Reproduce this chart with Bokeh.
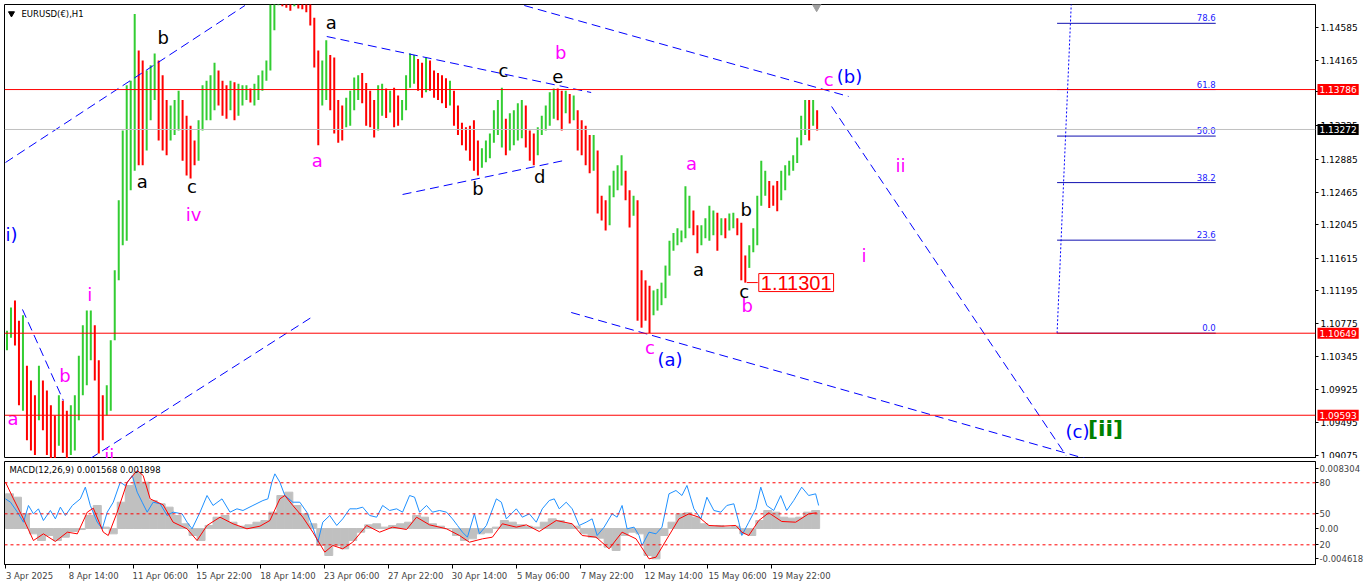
from bokeh.plotting import figure
from bokeh.models import (Range1d, FixedTicker, Label, Span, ColumnDataSource,
                          NumeralTickFormatter)
from bokeh.layouts import column
from bokeh.embed import file_html
from bokeh.resources import INLINE
from bokeh.core.properties import value

FONT = "DejaVu Sans"
SMALL = "8.5px"
SMALL_PX = 8.5

# ---------------- price data: H1 series grouped in 4-bar chunks ----------------
CHUNK = 4
highs = [
    1.1068, 1.1098, 1.1107, 1.1081, 1.1088, 1.1023, 1.1004, 1.0985, 1.1023, 1.1004,
    1.0991, 1.0972, 1.0959, 1.0985, 1.0978, 1.0965, 1.0972, 1.0985, 1.1036, 1.1075,
    1.1094, 1.1094, 1.1075, 1.1030, 1.0985, 1.0998, 1.1056, 1.1146, 1.1236, 1.1326,
    1.1384, 1.1390, 1.1476, 1.1429, 1.1416, 1.1403, 1.1410, 1.1425, 1.1416, 1.1397,
    1.1365, 1.1358, 1.1365, 1.1377, 1.1365, 1.1345, 1.1332, 1.1313, 1.1339, 1.1384,
    1.1390, 1.1397, 1.1413, 1.1403, 1.1390, 1.1384, 1.1390, 1.1388, 1.1386, 1.1384,
    1.1384, 1.1380, 1.1386, 1.1397, 1.1403, 1.1416, 1.1488, 1.1533, 1.1572, 1.1560,
    1.1545, 1.1530, 1.1540, 1.1535, 1.1530, 1.1520, 1.1500, 1.1471, 1.1429, 1.1416,
    1.1442, 1.1423, 1.1420, 1.1365, 1.1358, 1.1368, 1.1377, 1.1394, 1.1397, 1.1400,
    1.1387, 1.1377, 1.1365, 1.1384, 1.1386, 1.1380, 1.1377, 1.1381, 1.1371, 1.1365,
    1.1397, 1.1425, 1.1423, 1.1418, 1.1413, 1.1420, 1.1416, 1.1403, 1.1400, 1.1397,
    1.1393, 1.1390, 1.1377, 1.1358, 1.1336, 1.1330, 1.1332, 1.1339, 1.1313, 1.1303,
    1.1313, 1.1322, 1.1352, 1.1365, 1.1381, 1.1341, 1.1348, 1.1352, 1.1361, 1.1365,
    1.1358, 1.1326, 1.1322, 1.1330, 1.1345, 1.1358, 1.1375, 1.1380, 1.1380, 1.1377,
    1.1377, 1.1373, 1.1371, 1.1352, 1.1339, 1.1332, 1.1320, 1.1320, 1.1300, 1.1242,
    1.1236, 1.1255, 1.1274, 1.1281, 1.1294, 1.1274, 1.1249, 1.1242, 1.1236, 1.1146,
    1.1133, 1.1126, 1.1120, 1.1122, 1.1130, 1.1152, 1.1184, 1.1194, 1.1200, 1.1197,
    1.1254, 1.1242, 1.1223, 1.1204, 1.1204, 1.1213, 1.1229, 1.1223, 1.1220, 1.1213,
    1.1213, 1.1219, 1.1220, 1.1213, 1.1207, 1.1165, 1.1178, 1.1200, 1.1242, 1.1287,
    1.1274, 1.1261, 1.1255, 1.1261, 1.1274, 1.1281, 1.1287, 1.1294, 1.1317, 1.1345,
    1.1365, 1.1365, 1.1365, 1.1352,
]
lows = [
    1.1043, 1.1059, 1.1049, 1.0972, 1.0965, 1.0927, 1.0914, 1.0908, 1.0953, 1.0940,
    1.0908, 1.0904, 1.0904, 1.0920, 1.0911, 1.0904, 1.0908, 1.0914, 1.0953, 1.0985,
    1.0998, 1.1030, 1.1004, 1.0910, 1.0927, 1.0959, 1.0965, 1.1056, 1.1133, 1.1178,
    1.1184, 1.1249, 1.1274, 1.1281, 1.1281, 1.1300, 1.1339, 1.1365, 1.1313, 1.1300,
    1.1294, 1.1313, 1.1320, 1.1326, 1.1287, 1.1268, 1.1264, 1.1281, 1.1287, 1.1326,
    1.1339, 1.1339, 1.1352, 1.1358, 1.1345, 1.1341, 1.1352, 1.1339, 1.1345, 1.1358,
    1.1365, 1.1362, 1.1358, 1.1365, 1.1377, 1.1390, 1.1403, 1.1455, 1.1487, 1.1486,
    1.1484, 1.1480, 1.1486, 1.1483, 1.1482, 1.1478, 1.1461, 1.1407, 1.1307, 1.1358,
    1.1365, 1.1352, 1.1322, 1.1310, 1.1313, 1.1330, 1.1332, 1.1352, 1.1365, 1.1361,
    1.1332, 1.1330, 1.1317, 1.1326, 1.1345, 1.1342, 1.1349, 1.1330, 1.1332, 1.1339,
    1.1352, 1.1381, 1.1386, 1.1377, 1.1368, 1.1375, 1.1377, 1.1368, 1.1365, 1.1361,
    1.1355, 1.1358, 1.1332, 1.1320, 1.1307, 1.1300, 1.1287, 1.1274, 1.1268, 1.1278,
    1.1285, 1.1290, 1.1310, 1.1320, 1.1304, 1.1294, 1.1300, 1.1307, 1.1313, 1.1316,
    1.1304, 1.1287, 1.1281, 1.1294, 1.1320, 1.1326, 1.1332, 1.1341, 1.1339, 1.1326,
    1.1348, 1.1335, 1.1339, 1.1300, 1.1294, 1.1281, 1.1271, 1.1274, 1.1219, 1.1210,
    1.1197, 1.1204, 1.1240, 1.1249, 1.1255, 1.1236, 1.1201, 1.1216, 1.1081, 1.1072,
    1.1081, 1.1065, 1.1088, 1.1094, 1.1101, 1.1110, 1.1139, 1.1171, 1.1178, 1.1182,
    1.1187, 1.1200, 1.1191, 1.1168, 1.1178, 1.1187, 1.1184, 1.1191, 1.1171, 1.1191,
    1.1187, 1.1197, 1.1200, 1.1191, 1.1133, 1.1130, 1.1149, 1.1169, 1.1178, 1.1229,
    1.1242, 1.1226, 1.1229, 1.1222, 1.1236, 1.1249, 1.1268, 1.1274, 1.1284, 1.1307,
    1.1320, 1.1313, 1.1332, 1.1326,
]

# horizontal levels
red_levels = [1.13786, 1.10649, 1.09593]
bid_price = 1.13272
price_ticks = [1.09075, 1.09495, 1.09925, 1.10345, 1.10775, 1.11195, 1.11615,
               1.12045, 1.12465, 1.12885, 1.13325, 1.13755, 1.14165, 1.14585]

# dashed trend lines (bar index, price)
tl_x0 = [0, 85, 17, 322, 398, 520, 567, 828]
tl_y0 = [1.12847, 1.09036, 1.10955, 1.14469, 1.12435, 1.14868, 1.10916, 1.13568]
tl_x1 = [240, 308, 58, 587, 560, 845, 1082, 1063]
tl_y1 = [1.14868, 1.10864, 1.09783, 1.13748, 1.12873, 1.13697, 1.09036, 1.09075]

# fibonacci retracement
fib_low, fib_high = 1.10649, 1.15725
fib_levels = [0.0, 23.6, 38.2, 50.0, 61.8, 78.6]
fib_x0, fib_x1 = 1054, 1213
fib_anchor_x = [1054, 1071]

# wave labels (text, bar, price)
black_txt = ["b", "a", "c", "a", "c", "e", "b", "d", "a", "b", "c"]
black_x = [158, 137, 187, 326.5, 499, 553.5, 473.5, 535.5, 694.5, 742.5, 740.5]
black_y = [1.14456, 1.12602, 1.12532, 1.14649, 1.14031, 1.13948, 1.12512, 1.12667,
           1.11469, 1.12236, 1.11186]
mag_txt = ["iv", "a", "b", "a", "b", "c", "c", "ii", "i", "i", "b", "a", "ii"]
mag_x = [188.5, 312.5, 556.5, 687.5, 743.5, 646, 825, 897, 860.5, 84.5, 59.5, 7.5, 104]
mag_y = [1.12171, 1.12873, 1.14269, 1.12834, 1.11006, 1.10465, 1.13915, 1.12802,
         1.11650, 1.11141, 1.10111, 1.09545, 1.09075]
blue_txt = ["(a)", "(b)", "(c)"]
blue_x = [666, 846, 1074.5]
blue_y = [1.10311, 1.13954, 1.09384]
low_mark = 1.11301
low_mark_bar = [743, 754]

# ---------------- MACD panel ----------------
hist = [0.00435, 0.00393, 0.00184, -0.00067, -0.00151, -0.00088, -0.00151, -0.00109, -0.00038, -0.00013,
        0.00163, 0.00289, 0.00017, -0.00067, 0.00330, 0.00540, 0.00707, 0.00581, 0.00351, 0.00310,
        0.00268, 0.00163, 0.00059, -0.00088, -0.00151, 0.00038, 0.00142, 0.00163, 0.00079, 0.00029,
        0.00046, 0.00079, 0.00100, 0.00205, 0.00414, 0.00456, 0.00289, 0.00184, 0.00059, -0.00213,
        -0.00339, -0.00213, -0.00255, -0.00151, -0.00046, 0.00046, 0.00059, 0.00017, 0.00038, 0.00059,
        0.00079, 0.00163, 0.00142, 0.00059, 0.00029, -0.00004, -0.00088, -0.00151, -0.00130, -0.00067,
        -0.00054, 0.00017, 0.00100, 0.00079, 0.00046, 0.00029, 0.00017, 0.00079, 0.00121, 0.00100,
        0.00059, 0.00029, -0.00067, -0.00109, -0.00121, -0.00234, -0.00276, -0.00088, -0.00046, -0.00067,
        -0.00339, -0.00381, -0.00088, 0.00079, 0.00184, 0.00197, 0.00142, 0.00059, 0.00029, 0.00038,
        0.00017, 0.00029, -0.00067, -0.00088, 0.00100, 0.00226, 0.00205, 0.00142, 0.00130, 0.00142,
        0.00205, 0.00226]
HIST_STEP = 8
sig_bar = [0, 8, 18, 28, 38, 50, 62, 72, 82, 88, 98, 103, 112, 122, 132, 138, 145, 158, 168, 182,
           192, 202, 215, 228, 242, 255, 265, 275, 280, 288, 298, 308, 320, 328, 338, 348, 362, 375,
           388, 402, 412, 425, 442, 455, 465, 478, 488, 498, 512, 522, 535, 552, 568, 578, 592, 605,
           618, 632, 645, 652, 665, 675, 685, 695, 705, 718, 732, 738, 745, 755, 765, 778, 792, 805, 813]
sig_val = [0.00581, 0.00372, 0.00121, -0.00151, -0.00067, -0.00163, -0.00046, -0.00067, 0.00205, 0.00255,
           -0.00046, -0.00088, 0.00205, 0.00581, 0.00728, 0.00665, 0.00372, 0.00297, 0.00079, -0.00004,
           -0.00151, 0.00038, 0.00142, 0.00059, -0.00004, 0.00029, 0.00100, 0.00372, 0.00414, 0.00289,
           0.00142, -0.00046, -0.00297, -0.00213, -0.00255, -0.00172, 0.00038, -0.00046, 0.00017, -0.00013,
           0.00142, 0.00046, -0.00004, -0.00088, -0.00172, -0.00130, -0.00109, 0.00059, 0.00017, 0.00046,
           -0.00038, 0.00100, 0.00059, -0.00088, -0.00109, -0.00255, -0.00046, -0.00130, -0.00381, -0.00360,
           -0.00088, 0.00121, 0.00184, 0.00142, 0.00038, 0.00029, 0.00038, -0.00046, -0.00088, 0.00100,
           0.00197, 0.00088, 0.00079, 0.00184, 0.00197]
blue_bar = [0, 5, 12, 18, 23, 28, 33, 38, 45, 50, 55, 60, 67, 75, 80, 85, 92, 97, 102, 108, 115, 120,
            127, 132, 137, 142, 148, 155, 162, 168, 177, 182, 187, 195, 202, 208, 217, 225, 232, 238,
            248, 258, 263, 267, 270, 275, 280, 288, 295, 302, 308, 313, 318, 325, 332, 338, 345, 352,
            358, 365, 372, 378, 385, 392, 398, 405, 410, 415, 422, 428, 435, 442, 448, 453, 458, 463,
            470, 475, 482, 487, 492, 497, 502, 507, 512, 518, 525, 532, 538, 545, 550, 555, 562, 568,
            575, 582, 588, 593, 600, 608, 613, 618, 623, 630, 635, 638, 645, 652, 658, 665, 672, 678,
            683, 690, 697, 703, 710, 717, 723, 730, 735, 738, 745, 752, 757, 763, 770, 777, 783, 790,
            798, 805, 812, 815]
blue_val = [0.00372, 0.00330, 0.00205, 0.00079, 0.00289, 0.00184, 0.00247, 0.00100, 0.00226, 0.00121,
            0.00268, 0.00163, 0.00289, 0.00372, 0.00519, 0.00289, 0.00079, -0.00004, 0.00205, 0.00330,
            0.00581, 0.00540, 0.00665, 0.00456, 0.00330, 0.00205, 0.00330, 0.00310, 0.00163, 0.00205,
            0.00184, 0.00079, -0.00004, 0.00205, 0.00414, 0.00289, 0.00372, 0.00205, 0.00247, 0.00226,
            0.00289, 0.00351, 0.00372, 0.00581, 0.00686, 0.00581, 0.00414, 0.00330, 0.00330, 0.00205,
            0.00017, -0.00172, 0.00079, 0.00163, 0.00038, 0.00121, 0.00247, 0.00247, 0.00268, 0.00163,
            0.00142, 0.00289, 0.00226, 0.00247, 0.00205, 0.00414, 0.00393, 0.00205, 0.00289, 0.00205,
            0.00226, 0.00205, 0.00121, 0.00038, -0.00046, -0.00109, 0.00184, -0.00067, 0.00038, 0.00205,
            0.00372, 0.00330, 0.00121, 0.00184, 0.00247, 0.00142, 0.00184, 0.00079, 0.00247, 0.00351,
            0.00372, 0.00247, 0.00330, 0.00247, 0.00038, 0.00079, 0.00121, -0.00088, 0.00017, 0.00184,
            0.00142, 0.00289, -0.00004, 0.00017, -0.00088, -0.00213, -0.00046, -0.00067, 0.00017, 0.00435,
            0.00477, 0.00414, 0.00540, 0.00247, 0.00121, 0.00393, 0.00226, 0.00205, 0.00289, 0.00310,
            0.00079, -0.00088, 0.00079, 0.00247, 0.00519, 0.00289, 0.00226, 0.00414, 0.00226, 0.00351,
            0.00519, 0.00414, 0.00435, 0.00289]
macd_levels = [0.00574, 0.00184, -0.00205]
macd_tick_pos = [0.00749, 0.00574, 0.00184, 0.0, -0.00205, -0.00380]
macd_tick_txt = ["0.008304", "80", "50", "0.00", "20", "-0.004618"]

date_labels = ["3 Apr 2025", "8 Apr 14:00", "11 Apr 06:00", "15 Apr 22:00", "18 Apr 14:00",
               "23 Apr 06:00", "27 Apr 22:00", "30 Apr 14:00", "5 May 06:00", "7 May 22:00",
               "12 May 14:00", "15 May 06:00", "19 May 22:00"]
DATE_STEP = 64

UP, DOWN = "#32CD32", "#FF0000"
BLUE = "#0000FF"
MAGENTA = "#FF00FF"

# DejaVu Sans advance widths (em) — used to left-align the date labels at their ticks
ADV = {"A": 0.684, "p": 0.635, "r": 0.411, "M": 0.863, "a": 0.613, "y": 0.592,
       ":": 0.337, " ": 0.318}
NBSP_EM = 0.318
FRAME_LEFT_PX = 5  # pixel position of bar 0


def left_aligned(s, tick):
    w = sum(ADV.get(ch, 0.636) for ch in s)
    pad = w
    # labels too close to the canvas edge get pushed inside by the axis; pad just enough
    if FRAME_LEFT_PX + tick - w * SMALL_PX < 0:
        pad = (FRAME_LEFT_PX + tick) / SMALL_PX
    return "\u00a0" * int(round(pad / NBSP_EM)) + s


# The price boxes of the right axis live in the (off-screen) top border panel so that
# they are not clipped to the frame; the layout is shifted up by that spare border.
TOP_SPARE = 90
SHIFT = TOP_SPARE - 4

# ======================= main price figure =======================
xr = Range1d(-1, 1313)
p1 = figure(width=1366, height=454 + TOP_SPARE, x_range=xr, y_range=Range1d(1.09036, 1.14881),
            output_backend="svg", toolbar_location=None, x_axis_location=None,
            y_axis_location="right", min_border_left=4, min_border_right=48,
            min_border_top=TOP_SPARE, min_border_bottom=0, title=None)
p1.grid.visible = False
p1.outline_line_color = "black"
p1.background_fill_color = "white"
p1.border_fill_color = "white"

ay = p1.yaxis[0]
ay.ticker = FixedTicker(ticks=price_ticks)
ay.formatter = NumeralTickFormatter(format="0.00000")
ay.major_label_text_font = FONT
ay.major_label_text_font_size = "9px"
ay.major_label_text_color = "black"
ay.major_tick_out = 3
ay.major_tick_in = 0
ay.minor_tick_out = 0
ay.minor_tick_in = 0
ay.major_label_standoff = 2
ay.axis_line_color = "black"

p1.add_layout(Span(location=bid_price, dimension="width", line_color="#C0C0C0", line_width=1))

n = len(highs)
bx = [CHUNK * i + (CHUNK - 1) / 2 for i in range(n)]
mids = [(h + l) / 2 for h, l in zip(highs, lows)]
cols = [UP if i == 0 or mids[i] >= mids[i - 1] else DOWN for i in range(n)]
src = ColumnDataSource(dict(x=bx, hi=highs, lo=lows, c=cols))
p1.segment(x0="x", y0="lo", x1="x", y1="hi", color="c", line_width=2, source=src)

# trend lines
p1.segment(x0=tl_x0, y0=tl_y0, x1=tl_x1, y1=tl_y1, line_color=BLUE, line_width=1,
           line_dash="9 5")

# fibonacci
fib_prices = [fib_low + lv / 100.0 * (fib_high - fib_low) for lv in fib_levels]
p1.segment(x0=[fib_x0] * len(fib_prices), y0=fib_prices, x1=[fib_x1] * len(fib_prices),
           y1=fib_prices, line_color="#1010B0", line_width=1)
p1.line(fib_anchor_x, [fib_low, fib_high], line_color=BLUE, line_width=1, line_dash="2 2")
p1.text(x=[fib_x1] * len(fib_prices), y=fib_prices,
        text=["%.1f" % lv for lv in fib_levels], text_color="#2020FF",
        text_font=value(FONT), text_font_size=value(SMALL), text_align="right",
        text_baseline="bottom", y_offset=-2)

for lv in red_levels:
    p1.add_layout(Span(location=lv, dimension="width", line_color="#FF0000", line_width=1))

# wave labels
p1.text(x=black_x, y=black_y, text=black_txt, text_color="black", text_font=value(FONT),
        text_font_size=value("18px"), text_align="center", text_baseline="middle")
p1.text(x=mag_x, y=mag_y, text=mag_txt, text_color=MAGENTA, text_font=value(FONT),
        text_font_size=value("18px"), text_align="center", text_baseline="middle")
p1.text(x=blue_x, y=blue_y, text=blue_txt, text_color=BLUE, text_font=value(FONT),
        text_font_size=value("18px"), text_align="center", text_baseline="middle")
p1.text(x=[0], y=[1.11914], text=["i)"], text_color=BLUE, text_font=value(FONT),
        text_font_size=value("18px"), text_align="left", text_baseline="middle")
p1.text(x=[1102.5], y=[1.09416], text=["[ii]"], text_color="#008000", text_font=value(FONT),
        text_font_size=value("22px"), text_font_style="bold", text_align="center",
        text_baseline="middle")

# low marker 1.11301
p1.line(low_mark_bar, [low_mark, low_mark], line_color="#FF0000", line_width=1)
p1.add_layout(Label(x=low_mark_bar[1] + 1, y=low_mark, text="%.5f" % low_mark,
                    text_color="#FF0000", text_font="Liberation Sans", text_font_size="20px",
                    text_align="left", text_baseline="middle", background_fill_color="white",
                    border_line_color="#FF0000", border_line_width=1, padding=2))

# title
p1.scatter(x=[6], y=[1.14765], marker="inverted_triangle", size=6, color="black")
p1.text(x=[16], y=[1.14765], text=["EURUSD(€),H1"], text_color="black", text_font=value(FONT),
        text_font_size=value(SMALL), text_align="left", text_baseline="middle")
p1.scatter(x=[813], y=[1.14855], marker="inverted_triangle", size=9, color="#A0A0A0")

# price boxes on the right axis
for lv, bg in [(red_levels[0], "#FF0000"), (bid_price, "black"),
               (red_levels[1], "#FF0000"), (red_levels[2], "#FF0000")]:
    p1.add_layout(Label(x=1315, y=lv, text="%.5f" % lv, text_color="white", text_font=FONT,
                        text_font_size="9px", text_align="left", text_baseline="middle",
                        background_fill_color=bg, padding=2), "above")

# ======================= MACD figure =======================
p2 = figure(width=1366, height=130, x_range=xr, y_range=Range1d(-0.00452, 0.00841),
            output_backend="svg", toolbar_location=None, y_axis_location="right",
            min_border_left=4, min_border_right=48, min_border_top=3, min_border_bottom=24,
            title=None)
p2.grid.visible = False
p2.outline_line_color = "black"
p2.background_fill_color = "white"
p2.border_fill_color = "white"

hx = [HIST_STEP * k + HIST_STEP / 2 for k in range(len(hist))]
p2.vbar(x=hx, width=HIST_STEP, top=hist, bottom=0, color="#C0C0C0")
for lv in macd_levels:
    p2.add_layout(Span(location=lv, dimension="width", line_color="#FF0000", line_width=1,
                       line_dash="3 3"))
p2.line(blue_bar, blue_val, line_color="#1E90FF", line_width=1)
p2.line(sig_bar, sig_val, line_color="#FF0000", line_width=1)
p2.text(x=[4], y=[0.0073], text=["MACD(12,26,9) 0.001568 0.001898"], text_color="black",
        text_font=value(FONT), text_font_size=value(SMALL), text_align="left",
        text_baseline="middle")

a2 = p2.yaxis[0]
a2.ticker = FixedTicker(ticks=macd_tick_pos)
a2.major_label_overrides = {t: s for t, s in zip(macd_tick_pos, macd_tick_txt)}
a2.major_label_text_font = FONT
a2.major_label_text_font_size = SMALL
a2.major_tick_out = 3
a2.major_tick_in = 0
a2.minor_tick_out = 0
a2.minor_tick_in = 0
a2.major_label_standoff = 1
a2.axis_line_color = "black"

ax = p2.xaxis[0]
date_ticks = [DATE_STEP * k for k in range(len(date_labels))]
ax.ticker = FixedTicker(ticks=date_ticks)
ax.major_label_overrides = {t: left_aligned(s, t) for t, s in zip(date_ticks, date_labels)}
ax.major_label_text_font = FONT
ax.major_label_text_font_size = SMALL
ax.major_tick_out = 4
ax.major_tick_in = 0
ax.minor_tick_out = 0
ax.minor_tick_in = 0
ax.major_label_standoff = 2
ax.axis_line_color = "black"

layout = column(p1, p2)
layout.styles = {"margin-top": "-%dpx" % SHIFT}

with open("out.html", "w", encoding="utf-8") as f:
    f.write(file_html(layout, INLINE))
